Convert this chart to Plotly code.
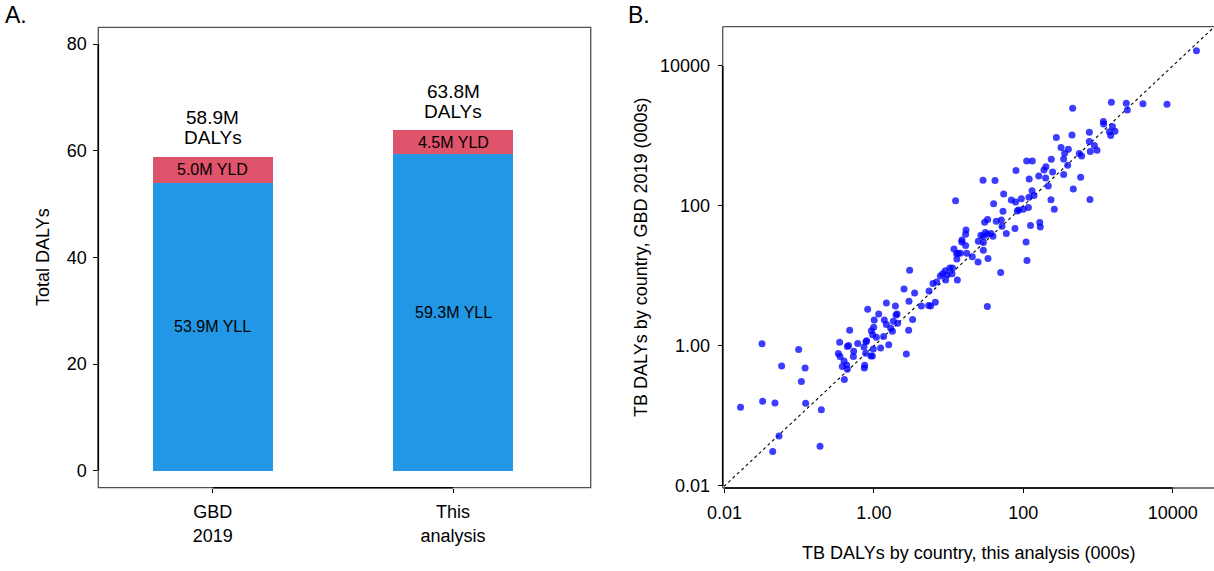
import numpy as np
import plotly.graph_objects as go

# ---------------- Panel A data ----------------
categories = ["GBD<br>2019", "This<br>analysis"]
yll = [53.9, 59.3]
yld = [5.0, 4.5]
a_yticks = [0, 20, 40, 60, 80]

# ---------------- Panel B data (000s) ----------------
this_analysis = [
    0.0164, 0.0318, 0.0324, 0.0474, 0.0582, 0.0537, 0.0442, 0.0984, 0.120, 0.107,
    0.122, 0.198, 0.190, 0.348, 0.334, 0.352, 0.398, 0.378, 0.432, 0.441,
    0.402, 0.474, 0.441, 0.459, 0.536, 0.531, 0.607, 0.736, 0.783, 0.800,
    0.776, 0.752, 0.745, 0.826, 0.914, 0.953, 0.982, 0.924, 0.963, 0.993,
    1.01, 1.08, 1.16, 1.23, 1.35, 1.38, 1.47, 1.47, 1.58, 1.68,
    1.77, 1.82, 1.94, 1.98, 2.04, 2.08, 2.72,
    458, 1510, 2390, 4000, 8390, 2470, 1180, 1190, 1560, 1420,
    1690, 1480, 766, 449, 277, 766, 893, 970, 789, 320,
    401, 358, 347, 562, 604, 237, 111, 132, 393, 201,
    189, 247, 79.8, 347, 161, 199, 120, 586, 28.9, 41.8,
    216, 467, 54.6, 131, 139, 119, 12.4, 94.1, 69.2, 79.0,
    235, 781, 40.1, 100, 117, 86.7, 83.2, 260, 53.5, 33.3,
    30.4, 43.5, 50.8, 51.9, 77.4, 125, 166, 169, 17.1, 16.9,
    31.0, 27.1, 33.0, 36.9, 39.3, 29.2, 59.3, 15.1, 15.0, 25.0,
    29.2, 16.9, 11.8, 29.2, 13.4, 12.8, 14.4, 17.5, 20.8, 12.9,
    33.7, 24.8, 109, 112, 10.4, 11.3, 9.04, 8.33, 7.75, 9.62,
    11.1, 9.14, 6.92, 6.18, 13.1, 5.47, 3.01, 2.53, 3.51, 49.8,
    2.95, 6.64, 5.41, 5.75, 4.32, 33.0, 3.30, 2.92, 20800,
]
gbd_2019 = [
    0.133, 1.07, 0.162, 0.153, 0.518, 0.0518, 0.0309, 0.887, 0.485, 0.309,
    0.152, 0.122, 0.0369, 1.13, 0.777, 0.704, 0.610, 0.507, 0.535, 0.464,
    0.330, 1.67, 0.978, 1.01, 0.839, 0.704, 1.08, 0.968, 1.15, 1.18,
    0.786, 0.530, 0.485, 3.34, 0.720, 0.720, 0.906, 1.64, 1.44, 1.85,
    2.35, 1.33, 2.86, 0.936, 1.36, 2.35, 2.02, 4.11, 1.04, 1.79,
    1.62, 2.25, 3.73, 2.77, 2.86, 2.11, 0.769,
    2480, 3030, 2930, 2870, 2840, 2350, 1600, 1480, 1360, 1150,
    1170, 1010, 1130, 1030, 947, 830, 728, 624, 597, 681,
    645, 565, 469, 559, 518, 464, 439, 439, 381, 361,
    327, 306, 320, 280, 268, 251, 243, 257, 233, 230,
    193, 175, 148, 164, 141, 133, 118, 126, 121, 114,
    122, 123, 107, 89.6, 94.7, 87.7, 84.8, 89.6, 83.9, 63.8,
    58.4, 60.4, 63.1, 51.2, 47.5, 52.4, 57.8, 50.1, 45.4, 39.4,
    41.6, 38.1, 39.4, 40.3, 36.9, 36.5, 40.3, 32.7, 30.6, 31.3,
    29.9, 27.1, 24.3, 23.3, 21.1, 20.8, 21.1, 21.1, 18.7, 17.5,
    17.7, 15.8, 30.6, 16.6, 13.0, 13.0, 11.8, 10.7, 10.0, 10.4,
    10.7, 8.77, 8.21, 7.77, 8.77, 6.11, 12.0, 6.52, 5.72, 11.2,
    4.35, 4.21, 3.77, 3.73, 3.73, 3.65, 2.38, 1.67, 16400,
]
b_tickvals = [0.01, 1, 100, 10000]
b_ticktext = ["0.01", "1.00", "100", "10000"]
diag = [0.005, 50000]

FONT = "Liberation Sans, Arial, Helvetica, sans-serif"
BLUE = "#2297E6"
RED = "#DF536B"
W, H = 1214, 571

xpos = list(range(len(categories)))
totals = [a + b for a, b in zip(yll, yld)]

fig = go.Figure()
fig.add_trace(go.Bar(x=xpos, y=yll, width=0.5, marker=dict(color=BLUE, line=dict(width=0)),
                     xaxis="x", yaxis="y", showlegend=False, hoverinfo="y"))
fig.add_trace(go.Bar(x=xpos, y=yld, width=0.5, marker=dict(color=RED, line=dict(width=0)),
                     xaxis="x", yaxis="y", showlegend=False, hoverinfo="y"))

fig.add_trace(go.Scatter(x=diag, y=diag, mode="lines",
                         line=dict(color="black", width=1.1, dash="dot"),
                         xaxis="x2", yaxis="y2", showlegend=False, hoverinfo="skip"))
fig.add_trace(go.Scatter(x=this_analysis, y=gbd_2019, mode="markers",
                         marker=dict(color="rgba(0,0,255,0.76)", size=7, line=dict(width=0)),
                         xaxis="x2", yaxis="y2", showlegend=False))

tickfont = dict(family=FONT, size=18, color="black")

ax_common = dict(showline=False, showgrid=False, zeroline=False, ticks="outside",
                 ticklen=4, tickwidth=1, tickcolor="black", tickfont=tickfont,
                 automargin=False)

fig.update_layout(
    width=W, height=H,
    margin=dict(l=0, r=0, t=0, b=0, pad=0),
    paper_bgcolor="white", plot_bgcolor="white",
    barmode="stack",
    font=dict(family=FONT, size=18, color="black"),
    xaxis=dict(domain=[98.3 / W, 590.7 / W], range=[-0.476, 1.573],
               tickvals=xpos, ticktext=categories, ticklabelstandoff=4, **ax_common),
    yaxis=dict(domain=[(H - 487.7) / H, (H - 27.3) / H], range=[-3.2, 83.15],
               tickvals=a_yticks, ticklabelstandoff=3, **ax_common),
    xaxis2=dict(domain=[722.7 / W, 1.0], type="log", range=[-2.024, 4.553],
                tickvals=b_tickvals, ticktext=b_ticktext, ticklabelstandoff=4,
                anchor="y2", **ax_common),
    yaxis2=dict(domain=[(H - 488) / H, (H - 26.7) / H], type="log", range=[-2.03, 4.56],
                tickvals=b_tickvals, ticktext=b_ticktext, ticklabelstandoff=4,
                anchor="x2", **ax_common),
)

BOX = "#505050"
shapes = [
    dict(type="rect", xref="x domain", yref="y domain", x0=0, x1=1, y0=0, y1=1,
         line=dict(color=BOX, width=1.3), layer="above"),
    dict(type="line", xref="x", yref="y domain", x0=xpos[0], x1=xpos[-1], y0=0, y1=0,
         line=dict(color="black", width=1.6), layer="above"),
    dict(type="line", xref="x domain", yref="y", x0=0, x1=0, y0=a_yticks[0], y1=a_yticks[-1],
         line=dict(color="black", width=1.6), layer="above"),
    dict(type="line", xref="x2 domain", yref="y2 domain", x0=0, x1=1, y0=1, y1=1,
         line=dict(color=BOX, width=1.3), layer="above"),
    dict(type="line", xref="x2 domain", yref="y2 domain", x0=0, x1=1, y0=0, y1=0,
         line=dict(color=BOX, width=1.3), layer="above"),
    dict(type="line", xref="x2 domain", yref="y2 domain", x0=0, x1=0, y0=0, y1=1,
         line=dict(color=BOX, width=1.3), layer="above"),
    dict(type="line", xref="x2", yref="y2 domain",
         x0=b_tickvals[0], x1=b_tickvals[-1], y0=0, y1=0,
         line=dict(color="black", width=1.6), layer="above"),
    dict(type="line", xref="x2 domain", yref="y2", x0=0, x1=0,
         y0=b_tickvals[0], y1=b_tickvals[-1],
         line=dict(color="black", width=1.6), layer="above"),
]
fig.update_layout(shapes=shapes)

C = dict(showarrow=False, xanchor="center", yanchor="middle")
ann = []
for i in xpos:
    ann.append(dict(x=i, y=yll[i] / 2, xref="x", yref="y", text=f"{yll[i]:.1f}M YLL",
                    font=dict(size=16), **C))
    ann.append(dict(x=i, y=yll[i] + yld[i] / 2, xref="x", yref="y", text=f"{yld[i]:.1f}M YLD",
                    font=dict(size=16), **C))
    ann.append(dict(x=i, y=totals[i] + 7.3, xref="x", yref="y", text=f"{totals[i]:.1f}M",
                    font=dict(size=19), **C))
    ann.append(dict(x=i, y=totals[i] + 3.5, xref="x", yref="y", text="DALYs",
                    font=dict(size=19), **C))

ann += [
    dict(x=3 / W, y=1, xref="paper", yref="paper", text="A.", showarrow=False,
         xanchor="left", yanchor="top", font=dict(size=23)),
    dict(x=626 / W, y=1, xref="paper", yref="paper", text="B.", showarrow=False,
         xanchor="left", yanchor="top", font=dict(size=23)),
    dict(x=43 / W, y=1 - 257 / H, xref="paper", yref="paper", text="Total DALYs",
         textangle=-90, font=dict(size=18), **C),
    dict(x=641 / W, y=1 - 258 / H, xref="paper", yref="paper",
         text="TB DALYs by country, GBD 2019 (000s)",
         textangle=-90, font=dict(size=18), **C),
    dict(x=968 / W, y=1 - 553 / H, xref="paper", yref="paper",
         text="TB DALYs by country, this analysis (000s)",
         font=dict(size=18), **C),
]
fig.update_layout(annotations=ann)

fig.write_html(
    "out.html",
    config={"displayModeBar": False},
    post_script="document.body.style.margin='0';document.body.style.padding='0';"
                "document.documentElement.style.overflow='hidden';",
)
